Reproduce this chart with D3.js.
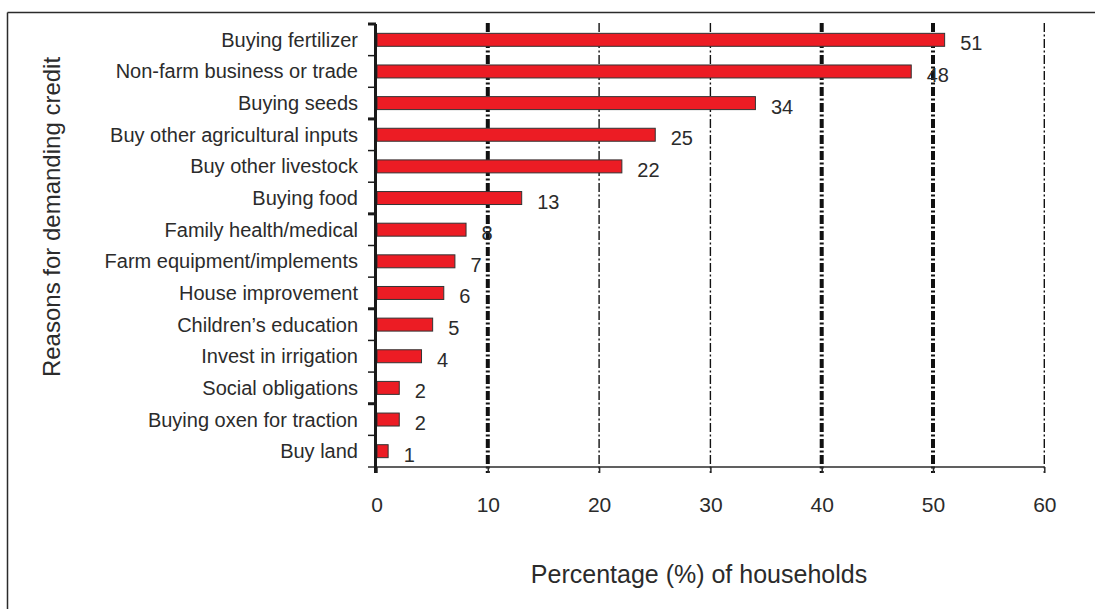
<!DOCTYPE html>
<html>
<head>
<meta charset="utf-8">
<script src="https://cdn.jsdelivr.net/npm/d3@7"></script>
<style>
  html, body { margin: 0; padding: 0; background: #fff; }
  svg { display: block; font-family: "Liberation Sans", Arial, sans-serif; }
</style>
</head>
<body>
<svg id="chart" width="1095" height="609"></svg>
<script>
// Reasons households gave for demanding credit (% of households)
const categories = [
  "Buying fertilizer",
  "Non-farm business or trade",
  "Buying seeds",
  "Buy other agricultural inputs",
  "Buy other livestock",
  "Buying food",
  "Family health/medical",
  "Farm equipment/implements",
  "House improvement",
  "Children’s education",
  "Invest in irrigation",
  "Social obligations",
  "Buying oxen for traction",
  "Buy land"
];
const values = [51, 48, 34, 25, 22, 13, 8, 7, 6, 5, 4, 2, 2, 1];
const xTicks = [0, 10, 20, 30, 40, 50, 60];
const heavyGrid = [10, 40, 50];
const xTitle = "Percentage (%) of households";
const yTitle = "Reasons for demanding credit";

const svg = d3.select("#chart");
const ink = "#2b2b2b";

const x = d3.scaleLinear().domain([0, 60]).range([376.5, 1044.3]);
const y = d3.scaleBand().domain(categories).range([24, 467])
  .paddingInner(0.59).paddingOuter(0.295);

// frame around the figure
svg.append("line").attr("x1", 7.5).attr("x2", 1095).attr("y1", 12.5).attr("y2", 12.5)
  .attr("stroke", ink).attr("stroke-width", 1.5);
svg.append("line").attr("x1", 7.5).attr("x2", 7.5).attr("y1", 12.5).attr("y2", 609)
  .attr("stroke", ink).attr("stroke-width", 1.5);

// dash-dot vertical gridlines
const gridTop = 23, gridBottom = 473;
svg.append("g").selectAll("line")
  .data(xTicks.filter(t => t > 0))
  .join("line")
  .attr("x1", d => x(d)).attr("x2", d => x(d))
  .attr("y1", gridTop).attr("y2", gridBottom)
  .attr("stroke", "#111")
  .attr("stroke-width", d => heavyGrid.includes(d) ? 4 : 1.4)
  .attr("stroke-dasharray", "9,2.5,2,2.5");

// x axis
const xAxis = svg.append("g").attr("transform", "translate(0,467)")
  .call(d3.axisBottom(x).tickValues(xTicks).tickSize(6).tickPadding(24).tickSizeOuter(0));
xAxis.select(".domain").attr("stroke", ink).attr("stroke-width", 1.5)
  .attr("d", `M368,0H${x(60)}`);
xAxis.selectAll(".tick line").attr("stroke", ink).attr("stroke-width", 1.5);
xAxis.selectAll(".tick text").attr("fill", ink).attr("font-size", 21)
  .attr("font-family", "Liberation Sans, Arial, sans-serif");

// bars
svg.append("g").selectAll("rect")
  .data(values)
  .join("rect")
  .attr("x", x(0) + 0.5)
  .attr("y", (d, i) => y(categories[i]))
  .attr("width", d => x(d) - x(0))
  .attr("height", y.bandwidth())
  .attr("fill", "#ec1c24")
  .attr("stroke", "#333")
  .attr("stroke-width", 1);

// y axis with category labels
const yAxisG = svg.append("g");
yAxisG.append("line").attr("x1", 375.5).attr("x2", 375.5).attr("y1", 24).attr("y2", 473)
  .attr("stroke", "#1a1a1a").attr("stroke-width", 3);
const step = y.step();
const boundaries = d3.range(categories.length).map(i => y(categories[i]) - y.paddingInner() * step / 2);
yAxisG.selectAll("line.tk")
  .data(boundaries)
  .join("line")
  .attr("class", "tk")
  .attr("x1", 368).attr("x2", 376)
  .attr("y1", d => d).attr("y2", d => d)
  .attr("stroke", "#1a1a1a")
  .attr("stroke-width", (d, i) => i % 3 === 0 ? 3 : 1.5);

svg.append("g").selectAll("text")
  .data(categories)
  .join("text")
  .attr("x", 358)
  .attr("y", d => y(d) + y.bandwidth() / 2 + 7)
  .attr("text-anchor", "end")
  .attr("font-size", 20)
  .attr("fill", ink)
  .text(d => d);

// value labels
svg.append("g").selectAll("text")
  .data(values)
  .join("text")
  .attr("x", d => x(d) + 16)
  .attr("y", (d, i) => y(categories[i]) + y.bandwidth() / 2 + 10.5)
  .attr("font-size", 20)
  .attr("fill", ink)
  .text(d => d);

// axis titles
svg.append("text")
  .attr("x", 699).attr("y", 583)
  .attr("text-anchor", "middle")
  .attr("font-size", 25)
  .attr("fill", ink)
  .text(xTitle);

svg.append("text")
  .attr("transform", "translate(60,217) rotate(-90)")
  .attr("text-anchor", "middle")
  .attr("font-size", 24)
  .attr("fill", ink)
  .text(yTitle);
</script>
</body>
</html>
